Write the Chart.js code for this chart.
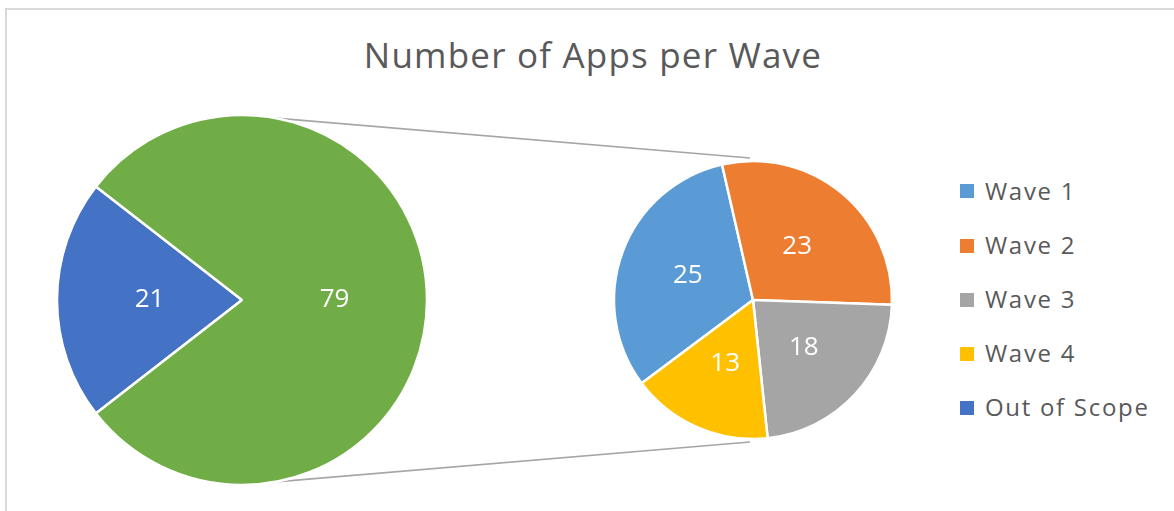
<!DOCTYPE html>
<html>
<head>
<meta charset="utf-8">
<script src="https://cdn.jsdelivr.net/npm/chart.js@4.4.0/dist/chart.umd.min.js"></script>
<style>
  html, body { margin: 0; padding: 0; background: #fff; }
  #wrap { position: relative; width: 1174px; height: 511px; overflow: hidden; background: #fff;
    font-family: "Open Sans", "Noto Sans", sans-serif; }
  #frame { position: absolute; left: 5px; top: 8px; width: 1200px; height: 540px;
    border: 2px solid #d9d9d9; box-sizing: border-box; }
  #title { position: absolute; left: 0; width: 1186px; top: 37px; text-align: center;
    font-size: 35px; line-height: 35px; letter-spacing: 1.2px; color: #595959; }
  #links { position: absolute; left: 0; top: 0; z-index: 1; }
  #mainPie { position: absolute; left: 42px; top: 100px; z-index: 2; }
  #wavePie { position: absolute; left: 593px; top: 140px; z-index: 2; }
  .row { position: absolute; left: 960px; height: 24px; line-height: 24px; font-size: 24px;
    letter-spacing: 1.7px; color: #595959; white-space: nowrap; }
  .row span.box { position: absolute; left: 0; top: 5.75px; width: 14px; height: 14px; }
  .row span.txt { position: absolute; left: 25px; top: 0; }
</style>
</head>
<body>
<div id="wrap">
  <div id="frame"></div>
  <div id="title">Number of Apps per Wave</div>
  <canvas id="links" width="1174" height="511"></canvas>
  <canvas id="mainPie" width="400" height="400"></canvas>
  <canvas id="wavePie" width="320" height="320"></canvas>
  <div id="legend"></div>
</div>
<script>
// main pie: out of scope vs the apps split out into waves
const mainLabels = ["Out of Scope", "Waves"];
const mainValues = [21, 79];
const mainColors = ["#4472C4", "#70AD47"];

// secondary pie
const waveLabels = ["Wave 1", "Wave 2", "Wave 3", "Wave 4"];
const waveValues = [25, 23, 18, 13];
const waveColors = ["#5B9BD5", "#ED7D31", "#A5A5A5", "#FFC000"];

const legendLabels = ["Wave 1", "Wave 2", "Wave 3", "Wave 4", "Out of Scope"];
const legendColors = ["#5B9BD5", "#ED7D31", "#A5A5A5", "#FFC000", "#4472C4"];

const valueLabels = {
  id: "valueLabels",
  afterDatasetsDraw(chart) {
    const ctx = chart.ctx;
    const meta = chart.getDatasetMeta(0);
    const values = chart.data.datasets[0].data;
    ctx.save();
    ctx.fillStyle = "#fff";
    ctx.font = '26px "Open Sans", sans-serif';
    ctx.textAlign = "center";
    ctx.textBaseline = "middle";
    meta.data.forEach((arc, i) => {
      const p = arc.tooltipPosition();
      ctx.fillText(String(values[i]), p.x, p.y);
    });
    ctx.restore();
  },
};

function pieOptions(rotation) {
  return {
    responsive: false,
    animation: false,
    rotation: rotation,
    layout: { padding: 0 },
    plugins: { legend: { display: false }, tooltip: { enabled: false }, title: { display: false } },
  };
}

const mainChart = new Chart(document.getElementById("mainPie"), {
  type: "pie",
  data: {
    labels: mainLabels,
    datasets: [{
      data: mainValues,
      backgroundColor: mainColors,
      borderColor: "#fff",
      borderWidth: 2.5,
      radius: 185,
    }],
  },
  options: pieOptions(232.2),
  plugins: [valueLabels],
});

const waveChart = new Chart(document.getElementById("wavePie"), {
  type: "pie",
  data: {
    labels: waveLabels,
    datasets: [{
      data: waveValues,
      backgroundColor: waveColors,
      borderColor: "#fff",
      borderWidth: 2.5,
      radius: 139,
    }],
  },
  options: pieOptions(233.2),
  plugins: [valueLabels],
});

// connector lines between the two pies
function drawLinks() {
  const cv = document.getElementById("links");
  const ctx = cv.getContext("2d");
  const a = mainChart.getDatasetMeta(0).data[0];
  const b = waveChart.getDatasetMeta(0).data[0];
  const ax = a.x + mainChart.canvas.offsetLeft, ay = a.y + mainChart.canvas.offsetTop;
  const bx = b.x + waveChart.canvas.offsetLeft, by = b.y + waveChart.canvas.offsetTop;
  const ang = 10.5 * Math.PI / 180;
  ctx.strokeStyle = "#a6a6a6";
  ctx.lineWidth = 1.6;
  [-1, 1].forEach((s) => {
    ctx.beginPath();
    ctx.moveTo(ax + a.outerRadius * Math.sin(ang), ay + s * a.outerRadius * Math.cos(ang));
    ctx.lineTo(bx - 3, by + s * (b.outerRadius + 3));
    ctx.stroke();
  });
}
drawLinks();

const legend = document.getElementById("legend");
legendLabels.forEach((name, i) => {
  const row = document.createElement("div");
  row.className = "row";
  row.style.top = (191.4 + 54.2 * i - 12.75) + "px";
  const box = document.createElement("span");
  box.className = "box";
  box.style.background = legendColors[i];
  const txt = document.createElement("span");
  txt.className = "txt";
  txt.textContent = name;
  row.appendChild(box);
  row.appendChild(txt);
  legend.appendChild(row);
});
</script>
</body>
</html>
